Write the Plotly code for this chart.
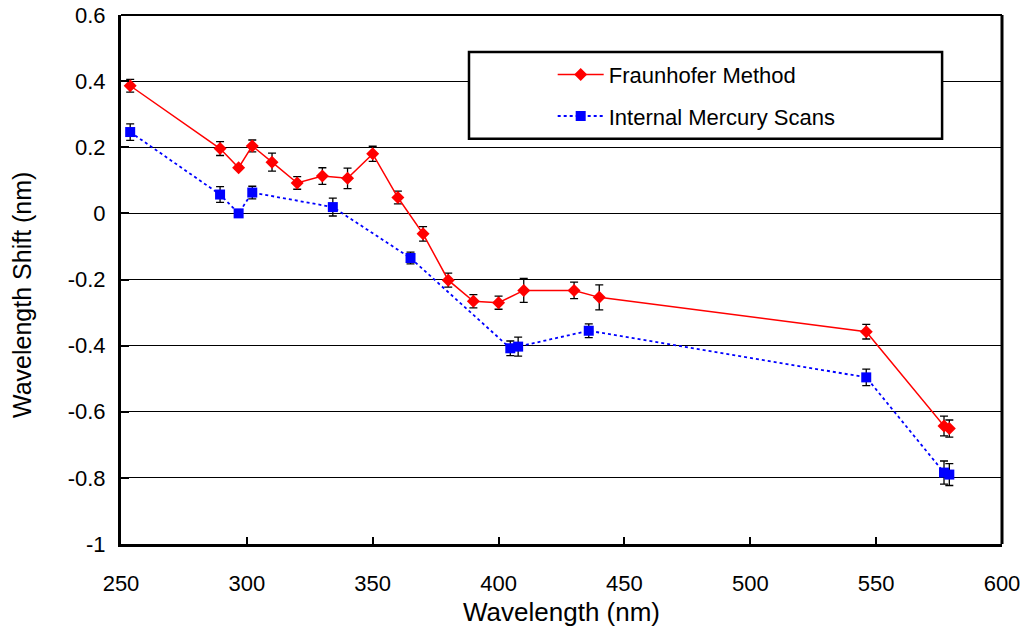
import plotly.graph_objects as go

# ---- data ----
fraun_wl = [253.65, 289.36, 296.73, 302.15, 310, 320, 330, 340, 350, 360, 370,
            380, 390, 400, 410, 430, 440, 546.07, 576.96, 579.07]
fraun_shift = [0.386, 0.196, 0.138, 0.204, 0.155, 0.092, 0.113, 0.106, 0.180, 0.048,
               -0.062, -0.202, -0.266, -0.270, -0.233, -0.233, -0.254, -0.358, -0.643, -0.651]
fraun_err = [0.019, 0.021, 0.005, 0.018, 0.027, 0.019, 0.025, 0.031, 0.023, 0.019,
             0.022, 0.021, 0.020, 0.020, 0.036, 0.025, 0.038, 0.022, 0.030, 0.026]

hg_wl = [253.65, 289.36, 296.73, 302.15, 334.15, 365.02, 404.66, 407.78, 435.83,
         546.07, 576.96, 579.07]
hg_shift = [0.246, 0.057, 0.0, 0.063, 0.019, -0.135, -0.408, -0.403, -0.355,
            -0.496, -0.784, -0.790]
hg_err = [0.025, 0.024, 0.005, 0.019, 0.027, 0.018, 0.022, 0.029, 0.021,
          0.025, 0.035, 0.033]

x_ticks = [250, 300, 350, 400, 450, 500, 550, 600]
y_ticks = [-1, -0.8, -0.6, -0.4, -0.2, 0, 0.2, 0.4, 0.6]
y_tick_labels = ["-1", "-0.8", "-0.6", "-0.4", "-0.2", "0", "0.2", "0.4", "0.6"]

FONT = "Arial, Liberation Sans, sans-serif"

fig = go.Figure()
fig.add_trace(go.Scatter(
    x=fraun_wl, y=fraun_shift, name="Fraunhofer Method", legendgroup="a",
    mode="lines+markers",
    line=dict(color="#FF0000", width=1.5),
    marker=dict(symbol="diamond", size=10, color="#FF0000"),
    error_y=dict(type="data", array=fraun_err, color="black", thickness=1.3, width=4),
))
fig.add_trace(go.Scatter(
    x=hg_wl, y=hg_shift, name="Internal Mercury Scans", legendgroup="b",
    mode="lines+markers",
    line=dict(color="#0000FF", width=1.8, dash="dot"),
    marker=dict(symbol="square", size=10, color="#0000FF"),
    error_y=dict(type="data", array=hg_err, color="black", thickness=1.3, width=4),
))

# legend box
fig.add_shape(type="rect", xref="paper", yref="paper",
              x0=0.395, x1=0.932, y0=0.766, y1=0.930,
              line=dict(color="black", width=2.5), fillcolor="white", layer="above")
# top and right frame
fig.add_shape(type="line", xref="paper", yref="paper", x0=0, x1=1, y0=1, y1=1,
              line=dict(color="black", width=2))
fig.add_shape(type="line", xref="paper", yref="paper", x0=1, x1=1, y0=0, y1=1,
              line=dict(color="black", width=3))

# axis titles
fig.add_annotation(text="Wavelength (nm)", xref="paper", yref="paper",
                   x=0.5, y=-0.1285, xanchor="center", yanchor="middle",
                   showarrow=False, font=dict(size=26))
fig.add_annotation(text="Wavelength Shift (nm)", xref="paper", yref="paper",
                   x=-0.1124, y=0.4707, xanchor="center", yanchor="middle",
                   textangle=-90, showarrow=False, font=dict(size=25))

fig.update_layout(
    width=1025, height=628,
    margin=dict(l=121, r=23, t=15, b=84, autoexpand=False),
    paper_bgcolor="white", plot_bgcolor="white",
    font=dict(family=FONT, size=22, color="black"),
    showlegend=True,
    legend=dict(x=0.49, y=0.927, xanchor="left", yanchor="top",
                bgcolor="rgba(0,0,0,0)", borderwidth=0,
                font=dict(size=22), tracegroupgap=10, itemwidth=46),
    xaxis=dict(range=[250, 600], tickvals=x_ticks, showgrid=False,
               showline=True, linecolor="black", linewidth=3,
               ticks="inside", ticklen=7, tickwidth=2, tickcolor="black",
               ticklabelstandoff=18, zeroline=False, automargin=False,
               ticklabeloverflow="allow"),
    yaxis=dict(range=[-1, 0.6], tickvals=y_ticks, ticktext=y_tick_labels,
               showgrid=True, gridcolor="black", gridwidth=1.2,
               showline=True, linecolor="black", linewidth=3,
               ticks="inside", ticklen=8, tickwidth=2, tickcolor="black",
               ticklabelstandoff=8, zeroline=False, automargin=False,
               ticklabeloverflow="allow"),
)

fig.write_html("out.html", config={"displayModeBar": False},
               post_script="document.body.style.margin='0';document.body.style.overflow='hidden';")
